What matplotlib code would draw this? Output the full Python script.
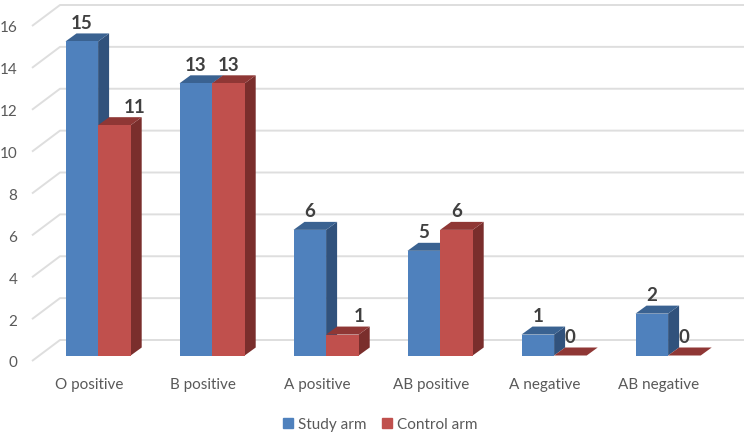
import matplotlib.pyplot as plt
import numpy as np
from matplotlib.patches import Patch

plt.rcParams['font.family'] = ['Lato', 'DejaVu Sans']

categories = ['O positive', 'B positive', 'A positive', 'AB positive', 'A negative', 'AB negative']
study_arm = [15, 13, 6, 5, 1, 2]
control_arm = [11, 13, 1, 6, 0, 0]
yticks = [0, 2, 4, 6, 8, 10, 12, 14, 16]

W, H = 751, 435
fig = plt.figure(figsize=(W / 100, H / 100), dpi=100)

# plot area is the front edge of the 3d box, in pixels
left, right, top, bottom = 32, 716, 27, 362
ax = fig.add_axes([left / W, 1 - bottom / H, (right - left) / W, (bottom - top) / H])
ax.set_xlim(-0.5, 5.5)
ax.set_ylim(0, 16)
ax.patch.set_alpha(0)
for s in ax.spines.values():
    s.set_visible(False)

px_x = 6 / (right - left)
px_y = 16 / (bottom - top)

# depth of the wall and of the bars
wall_dx, wall_dy = 28 * px_x, 21 * px_y
bar_x0, bar_y0 = 9.1 * px_x, 5.5 * px_y
bar_dx, bar_dy = 11 * px_x, 8 * px_y
bar_w = 32.6 * px_x

# gridlines on back wall and side wall
for v in yticks:
    ax.plot([-0.5, -0.5 + wall_dx, 5.5 + wall_dx], [v, v + wall_dy, v + wall_dy],
            color='#DEDEDE', lw=1.4, clip_on=False, zorder=1, solid_capstyle='butt')


def bar3d(x, v, front, side, roof):
    x0 = x + bar_x0
    x1 = x0 + bar_w
    y0 = bar_y0
    y1 = v + bar_y0
    ax.fill([x1, x1 + bar_dx, x1 + bar_dx, x1], [y0, y0 + bar_dy, y1 + bar_dy, y1],
            color=side, lw=0, clip_on=False)
    ax.fill([x0, x0 + bar_dx, x1 + bar_dx, x1], [y1, y1 + bar_dy, y1 + bar_dy, y1],
            color=roof, lw=0, clip_on=False)
    ax.bar(x0, v, bar_w, bottom=y0, align='edge', color=front, lw=0, clip_on=False)


x = np.arange(len(categories))
for i in x:
    bar3d(i - bar_w, study_arm[i], '#4F81BD', '#31527C', '#3A6291')
    bar3d(i, control_arm[i], '#C0504D', '#7A2E2C', '#8F3735')

# data labels, two of them were moved aside in the original
label_kw = dict(ha='center', va='center', fontsize=13.5, fontweight='bold', color='#404040',
                textcoords='offset points', annotation_clip=False)
shift = {0: 20, 2: 17}
for i in x:
    ax.annotate(str(study_arm[i]), (i - bar_w / 2 + bar_x0, study_arm[i] + bar_y0),
                xytext=(0, 19 * 0.72), **label_kw)
    ax.annotate(str(control_arm[i]), (i + bar_w / 2 + bar_x0, control_arm[i] + bar_y0),
                xytext=(shift.get(i, 0) * 0.72, 19 * 0.72), **label_kw)

ax.set_xticks(x)
ax.set_xticklabels(categories)
ax.set_yticks(yticks)
ax.tick_params(axis='both', length=0, labelsize=11, labelcolor='#595959')
ax.tick_params(axis='x', pad=11.5)
ax.tick_params(axis='y', pad=10.5)

handles = [Patch(color='#4F81BD', label='Study arm'), Patch(color='#C0504D', label='Control arm')]
fig.legend(handles=handles, loc='center', bbox_to_anchor=(380.5 / W, 1 - 425.5 / H), ncol=2, frameon=False,
           fontsize=11, labelcolor='#595959', handlelength=0.65, handleheight=0.65,
           handletextpad=0.35, columnspacing=1.0)

fig.savefig('out.png', dpi=100)
